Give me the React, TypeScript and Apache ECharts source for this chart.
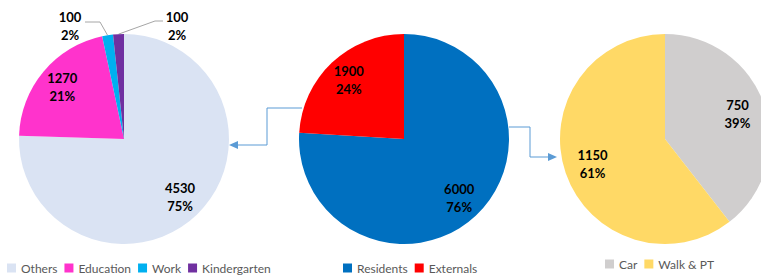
import React, { useEffect, useRef } from "react";
import * as echarts from "echarts";

const leftNames = ["Others", "Education", "Work", "Kindergarten"];
const leftValues = [4530, 1270, 100, 100];
const leftColors = ["#DAE3F3", "#FF33CC", "#00B0F0", "#7030A0"];

const midNames = ["Residents", "Externals"];
const midValues = [6000, 1900];
const midColors = ["#0070C0", "#FF0000"];

const rightNames = ["Car", "Walk & PT"];
const rightValues = [750, 1150];
const rightColors = ["#D0CECE", "#FFD966"];

const centers: [number, number][] = [
  [124, 139],
  [404, 139],
  [665, 139],
];
const R = 105;
const ARROW = "#5B9BD5";
const FONT = "Lato";

function makeData(names: string[], values: number[], colors: string[], outside: number[] = []) {
  return names.map((n, i) => {
    const d: any = { name: n, value: values[i], itemStyle: { color: colors[i] } };
    if (outside.includes(i)) {
      d.label = { position: "outside" };
      d.labelLine = { show: true, length: 10, length2: 10, lineStyle: { color: "#A6A6A6", width: 1 } };
    }
    return d;
  });
}

export default function App() {
  const ref = useRef<HTMLDivElement>(null);
  useEffect(() => {
    if (!ref.current) return;
    const chart = echarts.init(ref.current, undefined, { renderer: "svg" });
    const label = {
      show: true,
      position: "inside",
      formatter: "{c}\n{d}%",
      color: "#000",
      fontWeight: "bold",
      fontSize: 13,
      lineHeight: 18,
      fontFamily: FONT,
    };
    const labelLayout = (p: any) => {
      const c = centers[p.seriesIndex];
      if (p.seriesIndex === 0 && p.dataIndex >= 2) {
        const start = p.labelLinePoints ? p.labelLinePoints[0] : [c[0], c[1] - R];
        if (p.dataIndex === 2) {
          return {
            x: 70, y: 26, align: "center", verticalAlign: "middle",
            labelLinePoints: [start, [100, 22], [85, 22]],
          };
        }
        return {
          x: 177, y: 26, align: "center", verticalAlign: "middle",
          labelLinePoints: [start, [155, 21], [163, 21]],
        };
      }
      const r = p.labelRect;
      const lx = r.x + r.width / 2;
      const ly = r.y + r.height / 2;
      const k = p.seriesIndex === 2 ? 1.38 : 1.45;
      return {
        x: c[0] + (lx - c[0]) * k,
        y: c[1] + (ly - c[1]) * k,
        align: "center",
        verticalAlign: "middle",
      };
    };
    const common = {
      type: "pie",
      radius: R,
      startAngle: 90,
      clockwise: true,
      percentPrecision: 0,
      avoidLabelOverlap: false,
      label,
      labelLine: { show: false },
      labelLayout,
      emphasis: { disabled: true },
    };
    const legendBase = {
      icon: "rect",
      itemWidth: 9,
      itemHeight: 9,
      itemGap: 7,
      padding: 0,
      textStyle: { fontSize: 12, color: "#595959", fontFamily: FONT },
    };
    chart.setOption({
      animation: false,
      legend: [
        { ...legendBase, left: 7, top: 262, data: leftNames },
        { ...legendBase, left: 343, top: 262, data: midNames },
        { ...legendBase, left: 605, top: 258, data: rightNames },
      ],
      series: [
        { ...common, center: centers[0], data: makeData(leftNames, leftValues, leftColors, [2, 3]) },
        { ...common, center: centers[1], data: makeData(midNames, midValues, midColors) },
        { ...common, center: centers[2], data: makeData(rightNames, rightValues, rightColors) },
      ],
      graphic: [
        {
          type: "polyline",
          shape: { points: [[302, 108], [267, 108], [267, 145], [237, 145]] },
          style: { stroke: ARROW, lineWidth: 1, fill: null },
        },
        {
          type: "polygon",
          shape: { points: [[229, 145], [238, 141], [238, 149]] },
          style: { fill: ARROW },
        },
        {
          type: "polyline",
          shape: { points: [[509, 127], [530, 127], [530, 157], [549, 157]] },
          style: { stroke: ARROW, lineWidth: 1, fill: null },
        },
        {
          type: "polygon",
          shape: { points: [[557, 157], [548, 153], [548, 161]] },
          style: { fill: ARROW },
        },
      ],
    });
    return () => chart.dispose();
  }, []);
  return (
    <div
      ref={ref}
      style={{ position: "absolute", left: 0, top: 0, width: 761, height: 279, background: "#fff" }}
    />
  );
}
